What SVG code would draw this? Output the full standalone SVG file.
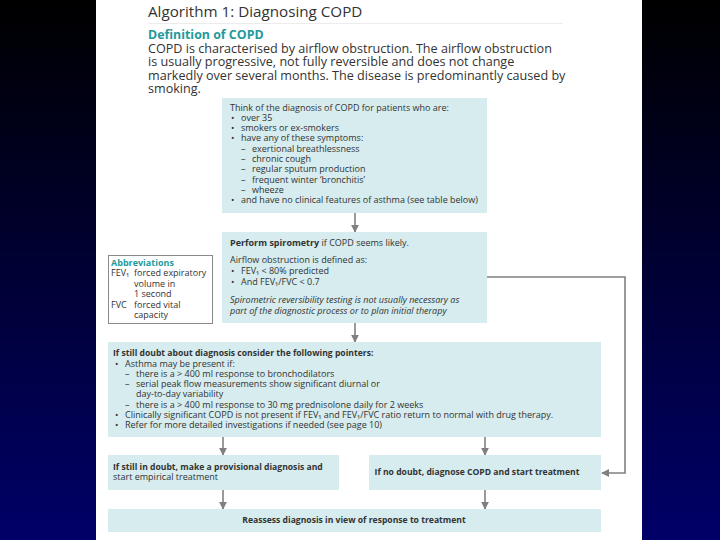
<svg xmlns="http://www.w3.org/2000/svg" width="720" height="540" viewBox="0 0 720 540">
<defs>
<linearGradient id="bg" x1="0" y1="0" x2="0" y2="1">
<stop offset="0" stop-color="#000000"/>
<stop offset="1" stop-color="#000068"/>
</linearGradient>
<marker id="ah" viewBox="0 0 10 10" refX="9" refY="5" markerWidth="5" markerHeight="5" orient="auto" markerUnits="strokeWidth">
<path d="M0,0 L10,5 L0,10 z" fill="#808080"/>
</marker>
<style>
.box{fill:#d6ecee;}
.abbr{fill:#ffffff;stroke:#8a8a8a;stroke-width:1;}
text{font-family:"Open Sans","Liberation Sans",Arial,sans-serif;fill:#333333;}
.t{font-size:9px;}
.b{font-weight:bold;font-size:8.6px;}
.i{font-style:italic;}
.teal{fill:#1e9a9c;font-weight:bold;}
.conn{fill:none;stroke:#808080;stroke-width:1.6;marker-end:url(#ah);}
</style>
</defs>
<rect x="0" y="0" width="720" height="540" fill="url(#bg)"/>
<rect x="96" y="0" width="546" height="540" fill="#ffffff"/>

<g id="header">
<text x="148" y="17" style="font-size:15.2px" fill="#333">Algorithm 1: Diagnosing COPD</text>
<line x1="148" y1="23.5" x2="563" y2="23.5" stroke="#ececec" stroke-width="1"/>
<text x="148" y="39" class="teal" style="font-size:12.4px">Definition of COPD</text>
<text x="148" y="52.5" style="font-size:12.6px">COPD is characterised by airflow obstruction. The airflow obstruction</text>
<text x="148" y="66" style="font-size:12.6px">is usually progressive, not fully reversible and does not change</text>
<text x="148" y="79.5" style="font-size:12.6px">markedly over several months. The disease is predominantly caused by</text>
<text x="148" y="93" style="font-size:12.6px">smoking.</text>
</g>

<g id="connectors">
<line class="conn" x1="355" y1="213" x2="355" y2="232"/>
<line class="conn" x1="355" y1="323" x2="355" y2="342"/>
<line class="conn" x1="223" y1="437" x2="223" y2="455"/>
<line class="conn" x1="485" y1="437" x2="485" y2="455"/>
<line class="conn" x1="223" y1="490" x2="223" y2="509"/>
<line class="conn" x1="485" y1="490" x2="485" y2="509"/>
<polyline class="conn" points="487,277 625,277 625,473 602,473"/>
</g>

<g id="think">
<rect class="box" x="222" y="98" width="265" height="115"/>
<text class="t" x="230" y="111">Think of the diagnosis of COPD for patients who are:</text>
<text class="t" x="231" y="121">•<tspan x="241">over 35</tspan></text>
<text class="t" x="231" y="131">•<tspan x="241">smokers or ex-smokers</tspan></text>
<text class="t" x="231" y="141">•<tspan x="241">have any of these symptoms:</tspan></text>
<text class="t" x="241" y="152">–<tspan x="252">exertional breathlessness</tspan></text>
<text class="t" x="241" y="162">–<tspan x="252">chronic cough</tspan></text>
<text class="t" x="241" y="172">–<tspan x="252">regular sputum production</tspan></text>
<text class="t" x="241" y="183">–<tspan x="252">frequent winter ‘bronchitis’</tspan></text>
<text class="t" x="241" y="193">–<tspan x="252">wheeze</tspan></text>
<text class="t" x="231" y="203">•<tspan x="241">and have no clinical features of asthma (see table below)</tspan></text>
</g>

<g id="spirometry">
<rect class="box" x="222" y="232" width="265" height="91"/>
<text class="t" x="230" y="246"><tspan font-weight="bold">Perform spirometry</tspan> if COPD seems likely.</text>
<text class="t" x="230" y="263">Airflow obstruction is defined as:</text>
<text class="t" x="231" y="274">•<tspan x="241">FEV₁ &lt; 80% predicted</tspan></text>
<text class="t" x="231" y="285">•<tspan x="241">And FEV₁/FVC &lt; 0.7</tspan></text>
<text class="t i" x="230" y="303">Spirometric reversibility testing is not usually necessary as</text>
<text class="t i" x="230" y="314">part of the diagnostic process or to plan initial therapy</text>
</g>

<g id="abbreviations">
<rect class="abbr" x="108.5" y="255.5" width="104" height="68"/>
<text class="t teal" x="111" y="266">Abbreviations</text>
<text class="t" x="111" y="276">FEV₁<tspan x="134">forced expiratory</tspan></text>
<text class="t" x="134" y="287">volume in</text>
<text class="t" x="134" y="297">1 second</text>
<text class="t" x="111" y="308">FVC<tspan x="134">forced vital</tspan></text>
<text class="t" x="134" y="318">capacity</text>
</g>

<g id="pointers">
<rect class="box" x="108" y="342" width="493" height="95"/>
<text class="t b" x="113" y="356">If still doubt about diagnosis consider the following pointers:</text>
<text class="t" x="115" y="367">•<tspan x="125">Asthma may be present if:</tspan></text>
<text class="t" x="125" y="377">–<tspan x="136">there is a &gt; 400 ml response to bronchodilators</tspan></text>
<text class="t" x="125" y="387">–<tspan x="136">serial peak flow measurements show significant diurnal or</tspan></text>
<text class="t" x="136" y="397">day-to-day variability</text>
<text class="t" x="125" y="408">–<tspan x="136">there is a &gt; 400 ml response to 30 mg prednisolone daily for 2 weeks</tspan></text>
<text class="t" x="115" y="418">•<tspan x="125">Clinically significant COPD is not present if FEV₁ and FEV₁/FVC ratio return to normal with drug therapy.</tspan></text>
<text class="t" x="115" y="428">•<tspan x="125">Refer for more detailed investigations if needed (see page 10)</tspan></text>
</g>

<g id="provisional">
<rect class="box" x="108" y="455" width="231" height="35"/>
<text class="t b" x="113" y="470">If still in doubt, make a provisional diagnosis and</text>
<text class="t" x="113" y="480">start empirical treatment</text>
</g>

<g id="nodoubt">
<rect class="box" x="369" y="455" width="232" height="35"/>
<text class="t b" x="477" y="475" text-anchor="middle">If no doubt, diagnose COPD and start treatment</text>
</g>

<g id="reassess">
<rect class="box" x="108" y="509" width="493" height="23"/>
<text class="t b" x="354" y="523" text-anchor="middle">Reassess diagnosis in view of response to treatment</text>
</g>
</svg>
